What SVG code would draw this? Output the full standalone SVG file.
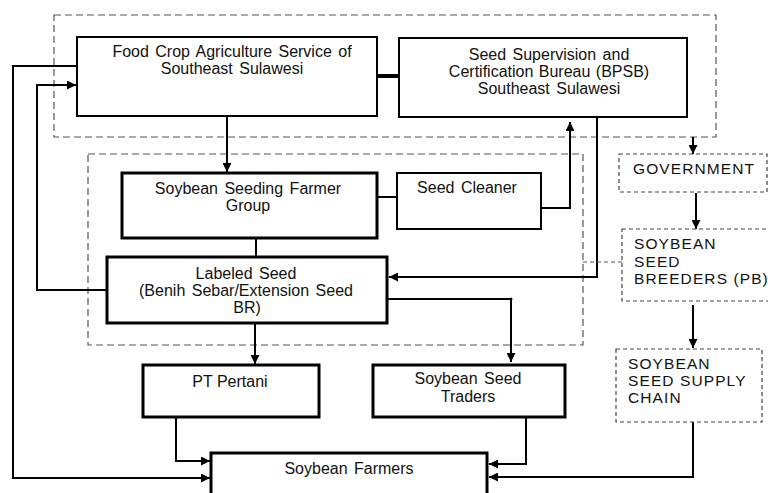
<svg xmlns="http://www.w3.org/2000/svg" width="768" height="493" viewBox="0 0 768 493">
<defs>
<marker id="ah" viewBox="0 0 10 10" refX="10" refY="5" markerWidth="9" markerHeight="9" markerUnits="userSpaceOnUse" orient="auto">
<path d="M0,0 L10,5 L0,10 z" fill="#000"/>
</marker>
<style>
text{font-family:"Liberation Sans",Arial,sans-serif;font-size:16px;fill:#111;}
.c{text-anchor:middle;}
.box{fill:#fff;stroke:#000;stroke-width:2;}
.bold{fill:#fff;stroke:#000;stroke-width:3;}
.grp{fill:none;stroke:#555;stroke-width:1.2;stroke-dasharray:7,4;}
.dbox{fill:#fff;stroke:#444;stroke-width:1.2;stroke-dasharray:4,3;}
.ln{fill:none;stroke:#000;stroke-width:2;}
.cap{font-size:15.5px;letter-spacing:1.1px;}
</style>
</defs>
<rect width="768" height="493" fill="#fff"/>
<g id="groups">
<rect class="grp" x="54" y="15" width="662" height="122"/>
<rect class="grp" x="88" y="154" width="495" height="191"/>
</g>
<g id="connectors">
<path class="ln" d="M227,117 V172" marker-end="url(#ah)"/>
<path d="M377,76 H399" stroke="#000" stroke-width="4"/>
<path class="ln" d="M377,197 H397" stroke-width="1.5"/>
<path class="ln" d="M541,208 H570 V122" marker-end="url(#ah)"/>
<path class="ln" d="M256,238 V257"/>
<path class="ln" d="M597,117 V277 H389" marker-end="url(#ah)"/>
<path class="ln" d="M107,290 H37 V85 H76" marker-end="url(#ah)"/>
<path class="ln" d="M76,66 H13 V478 H210" marker-end="url(#ah)"/>
<path class="ln" d="M387,299 H511 V362" marker-end="url(#ah)"/>
<circle cx="511" cy="299" r="1.5" fill="#000"/>
<path class="ln" d="M255,323 V364" marker-end="url(#ah)"/>
<path class="ln" d="M176,417 V461 H210" marker-end="url(#ah)"/>
<path class="ln" d="M526,417 V464 H489" marker-end="url(#ah)"/>
<path class="ln" d="M693,422 V477 H489" marker-end="url(#ah)"/>
<path class="ln" d="M693,137 V154" marker-end="url(#ah)"/>
<path class="ln" d="M696,193 V229" marker-end="url(#ah)"/>
<path class="ln" d="M693,305 V348" marker-end="url(#ah)"/>
<path d="M583,262 H622" fill="none" stroke="#555" stroke-width="1.2" stroke-dasharray="4,3"/>
</g>
<g id="food-crop">
<rect class="box" x="77" y="37" width="300" height="79"/>
<text class="c" x="232" y="57" word-spacing="2">Food Crop Agriculture Service of</text>
<text class="c" x="232" y="74" word-spacing="2">Southeast Sulawesi</text>
</g>
<g id="bpsb">
<rect class="box" x="399" y="38" width="288" height="79"/>
<text class="c" x="549" y="60" word-spacing="2">Seed Supervision and</text>
<text class="c" x="549" y="77" word-spacing="1">Certification Bureau (BPSB)</text>
<text class="c" x="549" y="94" word-spacing="2">Southeast Sulawesi</text>
</g>
<g id="seeding-group">
<rect class="bold" x="122" y="173" width="255" height="65"/>
<text class="c" x="248" y="194" word-spacing="2">Soybean Seeding Farmer</text>
<text class="c" x="248" y="211">Group</text>
</g>
<g id="seed-cleaner">
<rect class="box" x="397" y="173" width="144" height="56"/>
<text class="c" x="467" y="193" word-spacing="2">Seed Cleaner</text>
</g>
<g id="labeled-seed">
<rect class="bold" x="107" y="257" width="280" height="66"/>
<text class="c" x="246" y="279" word-spacing="2">Labeled Seed</text>
<text class="c" x="246" y="296" word-spacing="2">(Benih Sebar/Extension Seed</text>
<text class="c" x="247" y="313">BR)</text>
</g>
<g id="pt-pertani">
<rect class="bold" x="143" y="365" width="176" height="52"/>
<text class="c" x="230" y="387">PT Pertani</text>
</g>
<g id="traders">
<rect class="bold" x="373" y="365" width="192" height="52"/>
<text class="c" x="468" y="384" word-spacing="2">Soybean Seed</text>
<text class="c" x="468" y="402">Traders</text>
</g>
<g id="farmers">
<rect class="bold" x="211" y="453" width="276" height="50"/>
<text class="c" x="349" y="474" word-spacing="2">Soybean Farmers</text>
</g>
<g id="government">
<rect class="dbox" x="619" y="154" width="148" height="38"/>
<text class="cap" x="633" y="174">GOVERNMENT</text>
</g>
<g id="breeders">
<rect class="dbox" x="622" y="229" width="150" height="72"/>
<text class="cap" x="634" y="249">SOYBEAN</text>
<text class="cap" x="634" y="267">SEED</text>
<text class="cap" x="634" y="284">BREEDERS (PB)</text>
</g>
<g id="supply-chain">
<rect class="dbox" x="616" y="349" width="146" height="73"/>
<text class="cap" x="628" y="369">SOYBEAN</text>
<text class="cap" x="628" y="386">SEED SUPPLY</text>
<text class="cap" x="628" y="403">CHAIN</text>
</g>
</svg>
